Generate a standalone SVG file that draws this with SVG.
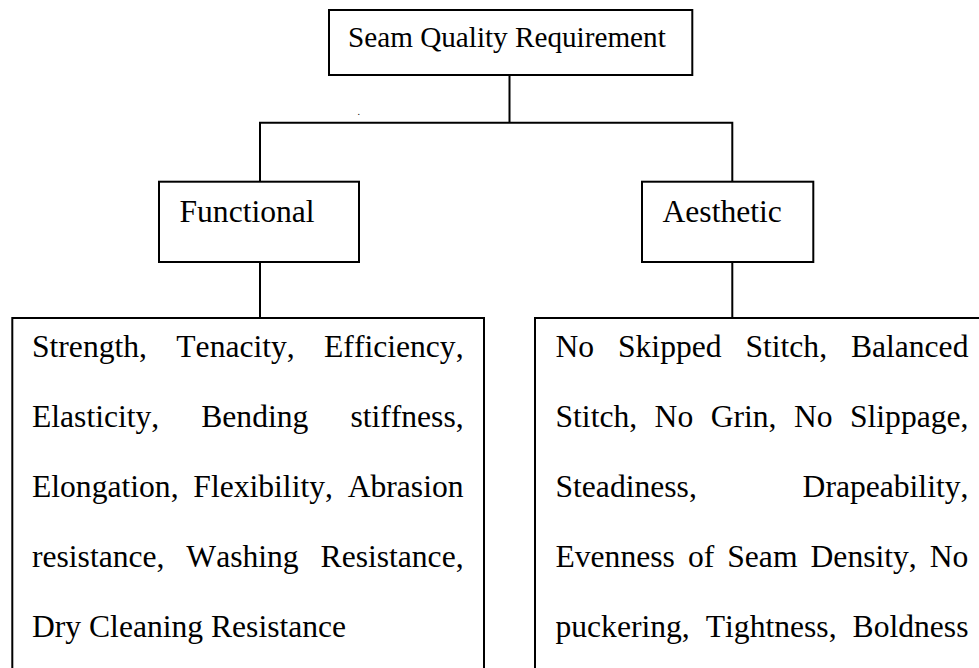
<svg xmlns="http://www.w3.org/2000/svg" width="979" height="668" viewBox="0 0 979 668">
<style>
.box{fill:#fff;stroke:#000;stroke-width:2}
.con{fill:none;stroke:#000;stroke-width:2}
.t{font-size:29.2px}
.b{font-size:31.6px}
</style>
<rect width="979" height="668" fill="#fff"/>
<g font-family="Liberation Serif, DejaVu Serif, serif" fill="#000" style="font-kerning:none;font-variant-ligatures:none">
<g id="connectors">
<path class="con" d="M509.5,75V122.7M260,122.7H732.3M260,121.7V182M732.3,121.7V182M260,262V318M732.3,262V318"/>
<text x="357.5" y="115" font-size="10">.</text>
</g>
<g id="root">
<rect class="box" x="329" y="10" width="363.3" height="65"/>
<text class="t" x="348" y="47">Seam Quality Requirement</text>
</g>
<g id="functional">
<rect class="box" x="159" y="181.7" width="200" height="80.3"/>
<text class="b" x="179.5" y="222">Functional</text>
</g>
<g id="aesthetic">
<rect class="box" x="642" y="181.7" width="171.3" height="80.3"/>
<text class="b" x="662.5" y="222">Aesthetic</text>
</g>
<g id="functional-details">
<rect class="box" x="12.3" y="318" width="471.7" height="400"/>
<text class="b" x="32" y="357" word-spacing="21.45">Strength, Tenacity, Efficiency,</text>
<text class="b" x="32" y="427" word-spacing="34.15">Elasticity, Bending stiffness,</text>
<text class="b" x="32" y="497" word-spacing="6.9">Elongation, Flexibility, Abrasion</text>
<text class="b" x="32" y="567" word-spacing="14">resistance, Washing Resistance,</text>
<text class="b" x="32" y="637">Dry Cleaning Resistance</text>
</g>
<g id="aesthetic-details">
<rect class="box" x="535" y="318" width="460" height="400"/>
<text class="b" x="555.5" y="357" word-spacing="15.97">No Skipped Stitch, Balanced</text>
<text class="b" x="555.5" y="427" word-spacing="9.55">Stitch, No Grin, No Slippage,</text>
<text class="b" x="555.5" y="497" word-spacing="97.9">Steadiness, Drapeability,</text>
<text class="b" x="555.5" y="567" word-spacing="5.17">Evenness of Seam Density, No</text>
<text class="b" x="555.5" y="637" word-spacing="8.15">puckering, Tightness, Boldness</text>
</g>
</g>
</svg>
